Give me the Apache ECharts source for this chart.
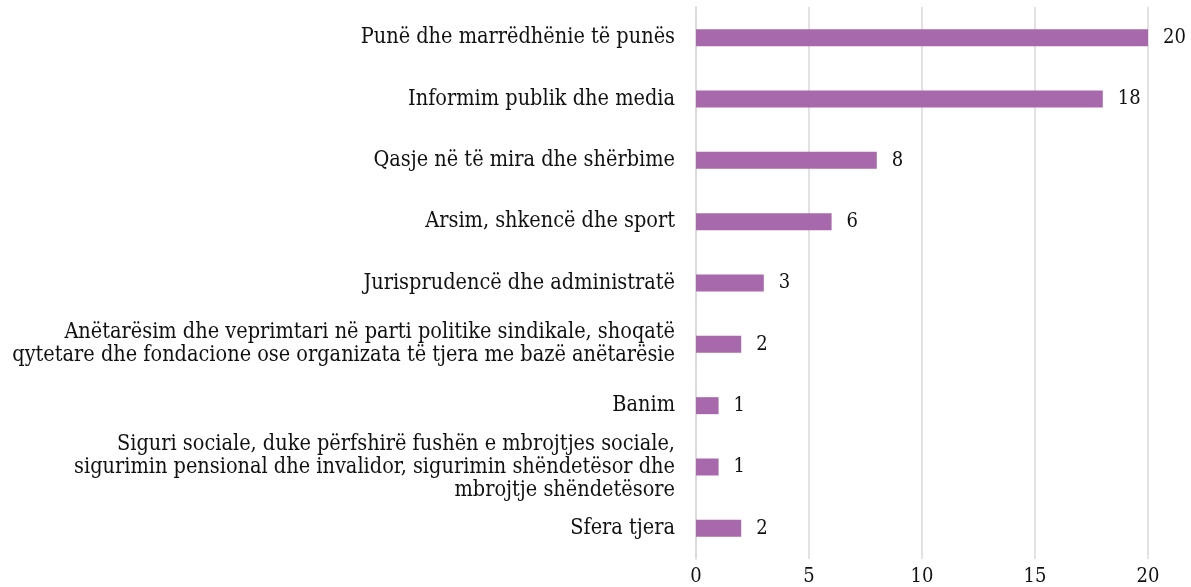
<!DOCTYPE html>
<html>
<head>
<meta charset="utf-8">
<script src="https://cdn.jsdelivr.net/npm/echarts@6/dist/echarts.min.js"></script>
<style>
  html, body { margin: 0; padding: 0; background: #fff; }
  #main { width: 1191px; height: 587px; }
</style>
</head>
<body>
<div id="main"></div>
<script>
// kategoritë, nga lart poshtë
var categories = [
    "Punë dhe marrëdhënie të punës",
    "Informim publik dhe media",
    "Qasje në të mira dhe shërbime",
    "Arsim, shkencë dhe sport",
    "Jurisprudencë dhe administratë",
    "Anëtarësim dhe veprimtari në parti politike sindikale, shoqatë\nqytetare dhe fondacione ose organizata të tjera me bazë anëtarësie",
    "Banim",
    "Siguri sociale, duke përfshirë fushën e mbrojtjes sociale,\nsigurimin pensional dhe invalidor, sigurimin shëndetësor dhe\nmbrojtje shëndetësore",
    "Sfera tjera"
];
var values = [20, 18, 8, 6, 3, 2, 1, 1, 2];
var xTicks = [0, 5, 10, 15, 20];

var font = "'DejaVu Serif Condensed', 'DejaVu Serif', serif";

var myChart = echarts.init(document.getElementById('main'));

var option = {
    animation: false,
    grid: {
        left: 696,
        right: 43,
        top: 7,
        bottom: 25
    },
    xAxis: {
        type: 'value',
        min: xTicks[0],
        max: xTicks[xTicks.length - 1],
        interval: 5,
        axisLine: { show: false },
        axisTick: { show: false },
        axisLabel: {
            color: '#111',
            fontFamily: font,
            fontSize: 20,
            margin: 8
        },
        splitLine: {
            lineStyle: { color: '#d9d9d9', width: 1.5 }
        }
    },
    yAxis: {
        type: 'category',
        inverse: true,
        data: categories,
        axisLine: { show: true, lineStyle: { color: '#d9d9d9', width: 1.5 } },
        axisTick: { show: false },
        axisLabel: {
            color: '#111',
            fontFamily: font,
            fontSize: 21.5,
            lineHeight: 23,
            margin: 21,
            align: 'right'
        }
    },
    series: [{
        type: 'bar',
        data: values,
        barWidth: 17,
        itemStyle: { color: '#a868ac' },
        label: {
            show: true,
            position: 'right',
            distance: 15,
            color: '#111',
            fontFamily: font,
            fontSize: 20
        }
    }]
};

myChart.setOption(option);
</script>
</body>
</html>
